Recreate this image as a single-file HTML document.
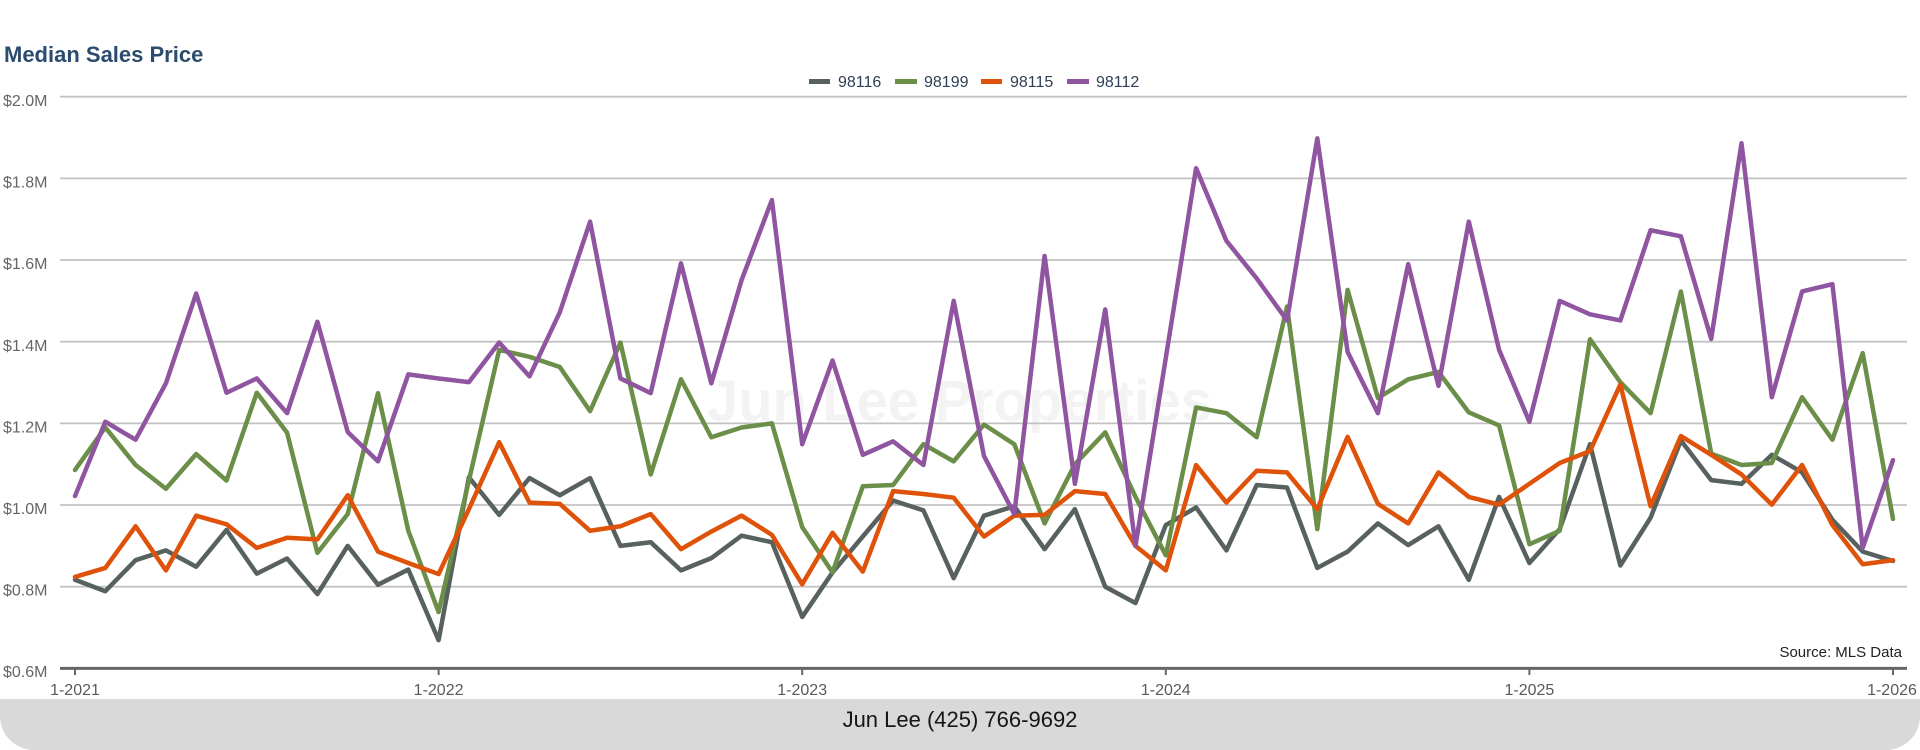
<!DOCTYPE html>
<html>
<head>
<meta charset="utf-8">
<style>
  html, body { margin: 0; padding: 0; background: #ffffff; }
  body { width: 1920px; height: 750px; position: relative; overflow: hidden; font-family: "Liberation Sans", Arial, sans-serif; }
  svg { position: absolute; left: 0; top: 0; }
  .footer {
    position: absolute; left: 0; top: 699px; width: 1920px; height: 51px;
    background: #d9d9d9; border-radius: 0 0 34px 34px;
  }
  .footer span {
    position: absolute; left: 0; width: 1920px; top: 8px; text-align: center;
    font-size: 22px; color: #151515; font-family: "Liberation Sans", Arial, sans-serif;
  }
</style>
</head>
<body>
<svg width="1920" height="750" viewBox="0 0 1920 750" xmlns="http://www.w3.org/2000/svg">
  <!-- watermark -->
  <text x="707" y="421" font-family="Liberation Sans, Arial, sans-serif" font-weight="bold" font-size="58" fill="#f3f3f3" textLength="505" lengthAdjust="spacingAndGlyphs">Jun Lee Properties</text>

  <!-- title -->
  <text x="4" y="62" font-family="Liberation Sans, Arial, sans-serif" font-weight="bold" font-size="22" fill="#2b4c6f">Median Sales Price</text>

  <!-- legend -->
  <g font-family="Liberation Sans, Arial, sans-serif" font-size="16" fill="#2f3e56">
    <rect x="809" y="79" width="21" height="5" fill="#57615f"/>
    <text x="838" y="87">98116</text>
    <rect x="895" y="79" width="22" height="5" fill="#6b8e48"/>
    <text x="924" y="87">98199</text>
    <rect x="981" y="79" width="21" height="5" fill="#df5209"/>
    <text x="1010" y="87">98115</text>
    <rect x="1067" y="79" width="22" height="5" fill="#8f55a0"/>
    <text x="1096" y="87">98112</text>
  </g>

  <!-- gridlines -->
  <g stroke="#c2c2c2" stroke-width="1.8">
    <line x1="60" y1="96.7" x2="1907" y2="96.7"/>
    <line x1="60" y1="178.4" x2="1907" y2="178.4"/>
    <line x1="60" y1="260.0" x2="1907" y2="260.0"/>
    <line x1="60" y1="341.7" x2="1907" y2="341.7"/>
    <line x1="60" y1="423.4" x2="1907" y2="423.4"/>
    <line x1="60" y1="505.0" x2="1907" y2="505.0"/>
    <line x1="60" y1="586.7" x2="1907" y2="586.7"/>
  </g>

  <!-- y labels -->
  <g font-family="Liberation Sans, Arial, sans-serif" font-size="16" fill="#666666">
    <text x="3" y="106">$2.0M</text>
    <text x="3" y="187.5">$1.8M</text>
    <text x="3" y="269">$1.6M</text>
    <text x="3" y="351">$1.4M</text>
    <text x="3" y="432.5">$1.2M</text>
    <text x="3" y="514">$1.0M</text>
    <text x="3" y="595.5">$0.8M</text>
    <text x="3" y="677">$0.6M</text>
  </g>

  <!-- axis -->
  <line x1="60" y1="668.4" x2="1907" y2="668.4" stroke="#666666" stroke-width="3"/>
  <g stroke="#666666" stroke-width="2">
    <line x1="75" y1="668" x2="75" y2="675"/>
    <line x1="438.6" y1="668" x2="438.6" y2="675"/>
    <line x1="802.2" y1="668" x2="802.2" y2="675"/>
    <line x1="1165.8" y1="668" x2="1165.8" y2="675"/>
    <line x1="1529.4" y1="668" x2="1529.4" y2="675"/>
    <line x1="1893" y1="668" x2="1893" y2="675"/>
  </g>
  <g font-family="Liberation Sans, Arial, sans-serif" font-size="16" fill="#5a5a5a" text-anchor="middle">
    <text x="75" y="695">1-2021</text>
    <text x="438.6" y="695">1-2022</text>
    <text x="802.2" y="695">1-2023</text>
    <text x="1165.8" y="695">1-2024</text>
    <text x="1529.4" y="695">1-2025</text>
    <text x="1892" y="695">1-2026</text>
  </g>

  <!-- series -->
  <g transform="matrix(30.3 0 0 -408.35 75 913.4)" fill="none" stroke-linejoin="round" stroke-linecap="round">
    <polyline vector-effect="non-scaling-stroke" stroke="#57615f" stroke-width="4.5" points="0,0.817 1,0.789 2,0.865 3,0.889 4,0.849 5,0.939 6,0.832 7,0.869 8,0.782 9,0.900 10,0.805 11,0.842 12,0.669 13,1.068 14,0.976 15,1.066 16,1.024 17,1.066 18,0.900 19,0.909 20,0.840 21,0.870 22,0.925 23,0.909 24,0.726 25,0.835 26,0.923 27,1.011 28,0.987 29,0.821 30,0.974 31,0.997 32,0.892 33,0.990 34,0.800 35,0.760 36,0.951 37,0.994 38,0.889 39,1.049 40,1.043 41,0.846 42,0.886 43,0.955 44,0.902 45,0.948 46,0.817 47,1.020 48,0.858 49,0.941 50,1.149 51,0.852 52,0.969 53,1.158 54,1.061 55,1.052 56,1.123 57,1.080 58,0.964 59,0.886 60,0.863"/>
    <polyline vector-effect="non-scaling-stroke" stroke="#6b8e48" stroke-width="4.5" points="0,1.086 1,1.190 2,1.098 3,1.040 4,1.125 5,1.060 6,1.275 7,1.177 8,0.883 9,0.978 10,1.274 11,0.937 12,0.738 13,1.060 14,1.380 15,1.363 16,1.338 17,1.230 18,1.398 19,1.075 20,1.308 21,1.166 22,1.190 23,1.200 24,0.946 25,0.835 26,1.046 27,1.049 28,1.149 29,1.107 30,1.197 31,1.149 32,0.955 33,1.100 34,1.178 35,1.020 36,0.877 37,1.239 38,1.225 39,1.166 40,1.486 41,0.941 42,1.527 43,1.262 44,1.308 45,1.326 46,1.227 47,1.195 48,0.904 49,0.937 50,1.406 51,1.301 52,1.225 53,1.523 54,1.126 55,1.098 56,1.103 57,1.264 58,1.160 59,1.372 60,0.966"/>
    <polyline vector-effect="non-scaling-stroke" stroke="#df5209" stroke-width="4.5" points="0,0.824 1,0.846 2,0.948 3,0.840 4,0.974 5,0.953 6,0.895 7,0.920 8,0.916 9,1.024 10,0.886 11,0.858 12,0.831 13,0.990 14,1.154 15,1.006 16,1.003 17,0.937 18,0.948 19,0.978 20,0.892 21,0.935 22,0.974 23,0.927 24,0.806 25,0.932 26,0.837 27,1.034 28,1.027 29,1.018 30,0.923 31,0.974 32,0.976 33,1.034 34,1.027 35,0.900 36,0.840 37,1.098 38,1.006 39,1.084 40,1.080 41,0.990 42,1.167 43,1.003 44,0.955 45,1.080 46,1.020 47,1.001 48,1.052 49,1.103 50,1.132 51,1.295 52,0.997 53,1.169 54,1.123 55,1.075 56,1.001 57,1.098 58,0.951 59,0.855 60,0.865"/>
    <polyline vector-effect="non-scaling-stroke" stroke="#8f55a0" stroke-width="4.5" points="0,1.022 1,1.204 2,1.160 3,1.298 4,1.518 5,1.275 6,1.310 7,1.225 8,1.449 9,1.179 10,1.107 11,1.320 12,1.310 13,1.301 14,1.398 15,1.315 16,1.472 17,1.694 18,1.310 19,1.274 20,1.592 21,1.298 22,1.551 23,1.747 24,1.149 25,1.354 26,1.123 27,1.156 28,1.098 29,1.500 30,1.120 31,0.978 32,1.610 33,1.052 34,1.479 35,0.900 36,1.360 37,1.825 38,1.647 39,1.555 40,1.452 41,1.898 42,1.375 43,1.225 44,1.590 45,1.292 46,1.694 47,1.380 48,1.204 49,1.500 50,1.467 51,1.452 52,1.673 53,1.658 54,1.407 55,1.886 56,1.264 57,1.523 58,1.541 59,0.895 60,1.110"/>
  </g>

  <!-- source -->
  <text x="1902" y="657" text-anchor="end" font-family="Liberation Sans, Arial, sans-serif" font-size="15" fill="#222222">Source: MLS Data</text>
</svg>
<div class="footer"><span>Jun Lee (425) 766-9692</span></div>
</body>
</html>
